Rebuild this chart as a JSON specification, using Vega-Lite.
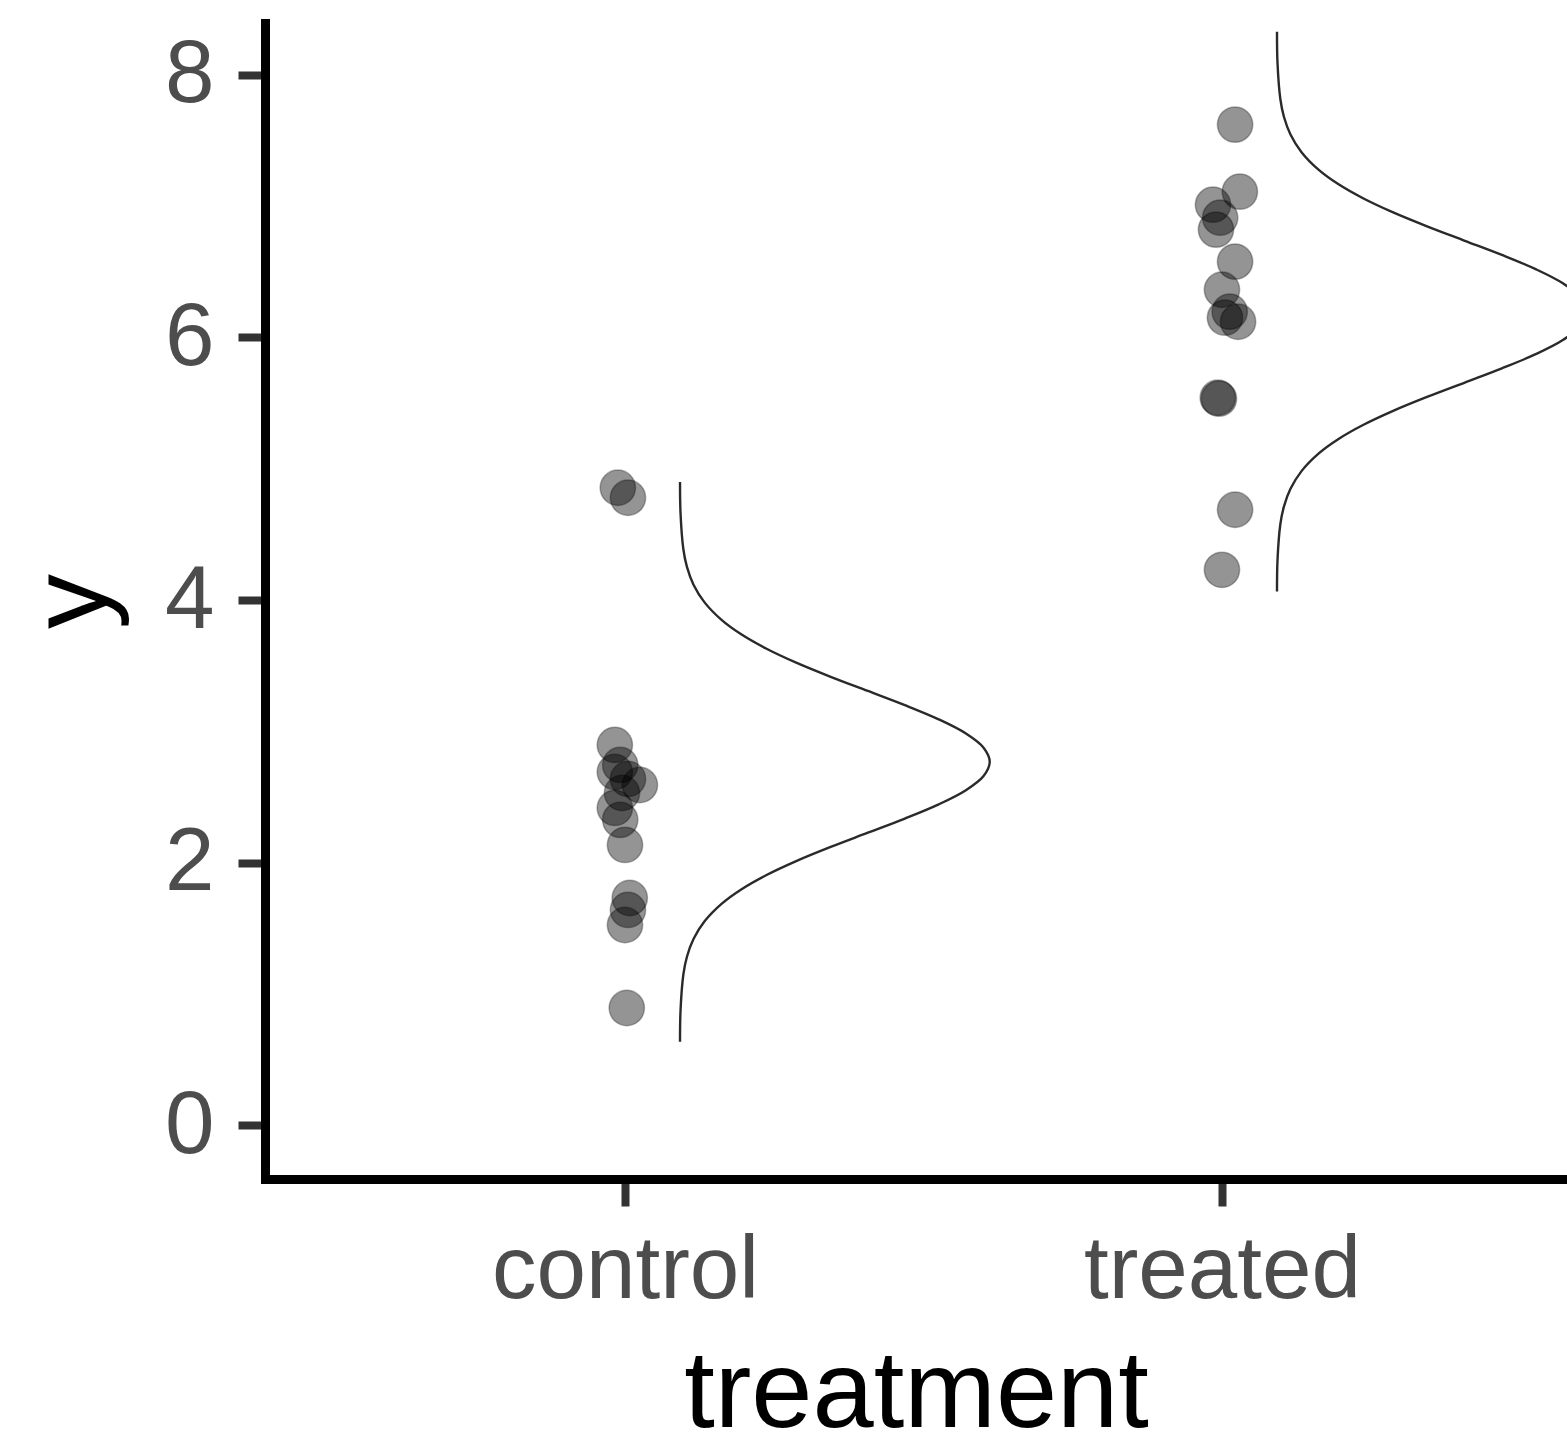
{
  "$schema": "https://vega.github.io/schema/vega-lite/v6.json",
  "width": 1302,
  "height": 1156,
  "autosize": {"type": "none"},
  "padding": {"left": 265, "top": 23, "right": 0, "bottom": 256},
  "background": "white",
  "config": {"view": {"stroke": null}, "font": "Liberation Sans"},
  "datasets": {
    "points": [
      {"treatment": "control", "x": 0.988, "y": 4.855},
      {"treatment": "control", "x": 1.005, "y": 4.779},
      {"treatment": "control", "x": 0.983, "y": 2.896},
      {"treatment": "control", "x": 0.992, "y": 2.744},
      {"treatment": "control", "x": 0.983, "y": 2.690},
      {"treatment": "control", "x": 1.005, "y": 2.637},
      {"treatment": "control", "x": 1.025, "y": 2.591},
      {"treatment": "control", "x": 0.995, "y": 2.530},
      {"treatment": "control", "x": 0.983, "y": 2.416},
      {"treatment": "control", "x": 0.992, "y": 2.325},
      {"treatment": "control", "x": 1.000, "y": 2.134},
      {"treatment": "control", "x": 1.008, "y": 1.730},
      {"treatment": "control", "x": 1.005, "y": 1.639},
      {"treatment": "control", "x": 1.000, "y": 1.524},
      {"treatment": "control", "x": 1.003, "y": 0.892},
      {"treatment": "treated", "x": 2.022, "y": 7.622},
      {"treatment": "treated", "x": 2.030, "y": 7.111},
      {"treatment": "treated", "x": 1.985, "y": 7.012},
      {"treatment": "treated", "x": 1.997, "y": 6.913},
      {"treatment": "treated", "x": 1.990, "y": 6.822},
      {"treatment": "treated", "x": 2.022, "y": 6.578},
      {"treatment": "treated", "x": 2.000, "y": 6.364},
      {"treatment": "treated", "x": 2.013, "y": 6.197},
      {"treatment": "treated", "x": 2.027, "y": 6.120},
      {"treatment": "treated", "x": 2.005, "y": 6.151},
      {"treatment": "treated", "x": 1.993, "y": 5.541},
      {"treatment": "treated", "x": 1.995, "y": 5.534},
      {"treatment": "treated", "x": 2.022, "y": 4.688},
      {"treatment": "treated", "x": 2.000, "y": 4.230}
    ],
    "curves": [
      {"treatment": "control", "x": 1.0922, "y": 0.634},
      {"treatment": "control", "x": 1.0931, "y": 0.877},
      {"treatment": "control", "x": 1.0978, "y": 1.147},
      {"treatment": "control", "x": 1.1038, "y": 1.282},
      {"treatment": "control", "x": 1.1148, "y": 1.417},
      {"treatment": "control", "x": 1.1333, "y": 1.552},
      {"treatment": "control", "x": 1.1622, "y": 1.687},
      {"treatment": "control", "x": 1.1947, "y": 1.795},
      {"treatment": "control", "x": 1.2363, "y": 1.903},
      {"treatment": "control", "x": 1.2868, "y": 2.011},
      {"treatment": "control", "x": 1.3446, "y": 2.119},
      {"treatment": "control", "x": 1.4068, "y": 2.227},
      {"treatment": "control", "x": 1.4689, "y": 2.335},
      {"treatment": "control", "x": 1.5255, "y": 2.443},
      {"treatment": "control", "x": 1.5711, "y": 2.551},
      {"treatment": "control", "x": 1.6007, "y": 2.659},
      {"treatment": "control", "x": 1.6110, "y": 2.767},
      {"treatment": "control", "x": 1.6007, "y": 2.875},
      {"treatment": "control", "x": 1.5711, "y": 2.983},
      {"treatment": "control", "x": 1.5255, "y": 3.091},
      {"treatment": "control", "x": 1.4689, "y": 3.199},
      {"treatment": "control", "x": 1.4068, "y": 3.307},
      {"treatment": "control", "x": 1.3446, "y": 3.415},
      {"treatment": "control", "x": 1.2868, "y": 3.523},
      {"treatment": "control", "x": 1.2363, "y": 3.631},
      {"treatment": "control", "x": 1.1947, "y": 3.739},
      {"treatment": "control", "x": 1.1622, "y": 3.847},
      {"treatment": "control", "x": 1.1333, "y": 3.982},
      {"treatment": "control", "x": 1.1148, "y": 4.117},
      {"treatment": "control", "x": 1.1038, "y": 4.252},
      {"treatment": "control", "x": 1.0978, "y": 4.387},
      {"treatment": "control", "x": 1.0931, "y": 4.657},
      {"treatment": "control", "x": 1.0922, "y": 4.900},
      {"treatment": "treated", "x": 2.0922, "y": 4.064},
      {"treatment": "treated", "x": 2.0931, "y": 4.307},
      {"treatment": "treated", "x": 2.0978, "y": 4.577},
      {"treatment": "treated", "x": 2.1038, "y": 4.712},
      {"treatment": "treated", "x": 2.1148, "y": 4.847},
      {"treatment": "treated", "x": 2.1333, "y": 4.982},
      {"treatment": "treated", "x": 2.1622, "y": 5.117},
      {"treatment": "treated", "x": 2.1947, "y": 5.225},
      {"treatment": "treated", "x": 2.2363, "y": 5.333},
      {"treatment": "treated", "x": 2.2868, "y": 5.441},
      {"treatment": "treated", "x": 2.3446, "y": 5.549},
      {"treatment": "treated", "x": 2.4068, "y": 5.657},
      {"treatment": "treated", "x": 2.4689, "y": 5.765},
      {"treatment": "treated", "x": 2.5255, "y": 5.873},
      {"treatment": "treated", "x": 2.5711, "y": 5.981},
      {"treatment": "treated", "x": 2.6007, "y": 6.089},
      {"treatment": "treated", "x": 2.6110, "y": 6.197},
      {"treatment": "treated", "x": 2.6007, "y": 6.305},
      {"treatment": "treated", "x": 2.5711, "y": 6.413},
      {"treatment": "treated", "x": 2.5255, "y": 6.521},
      {"treatment": "treated", "x": 2.4689, "y": 6.629},
      {"treatment": "treated", "x": 2.4068, "y": 6.737},
      {"treatment": "treated", "x": 2.3446, "y": 6.845},
      {"treatment": "treated", "x": 2.2868, "y": 6.953},
      {"treatment": "treated", "x": 2.2363, "y": 7.061},
      {"treatment": "treated", "x": 2.1947, "y": 7.169},
      {"treatment": "treated", "x": 2.1622, "y": 7.277},
      {"treatment": "treated", "x": 2.1333, "y": 7.412},
      {"treatment": "treated", "x": 2.1148, "y": 7.547},
      {"treatment": "treated", "x": 2.1038, "y": 7.682},
      {"treatment": "treated", "x": 2.0978, "y": 7.817},
      {"treatment": "treated", "x": 2.0931, "y": 8.087},
      {"treatment": "treated", "x": 2.0922, "y": 8.330}
    ]
  },
  "layer": [
    {
      "data": {"name": "curves"},
      "mark": {"type": "line", "stroke": "#2a2a2a", "strokeWidth": 2.4, "interpolate": "catmull-rom", "clip": true},
      "encoding": {
        "x": {
          "field": "x", "type": "quantitative",
          "scale": {"domain": [0.397, 2.578], "nice": false, "zero": false},
          "axis": {
            "values": [1, 2],
            "labelExpr": "datum.value == 1 ? 'control' : 'treated'",
            "labelLimit": 0,
            "title": "treatment",
            "grid": false,
            "domainColor": "black", "domainWidth": 9, "domainCap": "square",
            "tickColor": "#333333", "tickWidth": 8, "tickSize": 27,
            "labelFont": "Liberation Sans", "labelFontSize": 89, "labelColor": "#4D4D4D", "labelPadding": 21,
            "titleFont": "Liberation Sans", "titleFontSize": 110, "titleColor": "black", "titleFontWeight": "normal",
            "titleBaseline": "alphabetic", "titleY": 247, "titleLimit": 0
          }
        },
        "y": {
          "field": "y", "type": "quantitative",
          "scale": {"domain": [-0.411, 8.396], "nice": false, "zero": false},
          "axis": {
            "values": [0, 2, 4, 6, 8],
            "format": "d",
            "title": "y",
            "grid": false,
            "domainColor": "black", "domainWidth": 9, "domainCap": "square",
            "tickColor": "#333333", "tickWidth": 8, "tickSize": 27,
            "labelFont": "Liberation Sans", "labelFontSize": 89, "labelColor": "#4D4D4D", "labelPadding": 24,
            "titleFont": "Liberation Sans", "titleFontSize": 110, "titleColor": "black", "titleFontWeight": "normal",
            "titleBaseline": "alphabetic", "titleX": -160
          }
        },
        "detail": {"field": "treatment", "type": "nominal"},
        "order": {"field": "y", "type": "quantitative"}
      }
    },
    {
      "data": {"name": "points"},
      "mark": {"type": "circle", "size": 1250, "fill": "black", "fillOpacity": 0.42, "stroke": "black", "strokeOpacity": 0.3, "strokeWidth": 1.5},
      "encoding": {
        "x": {"field": "x", "type": "quantitative"},
        "y": {"field": "y", "type": "quantitative"}
      }
    }
  ]
}
